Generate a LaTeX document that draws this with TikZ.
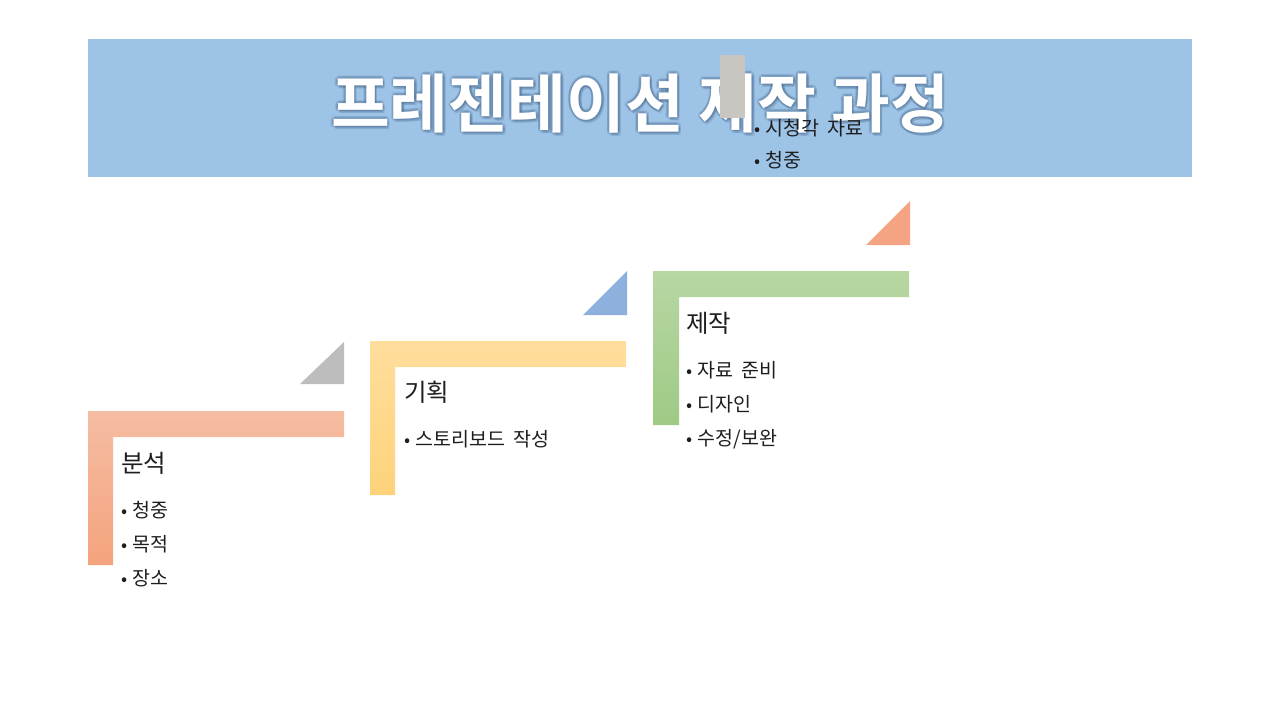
\documentclass[tikz,border=0pt]{standalone}
\usepackage{fontspec}
\newfontfamily\kr[WordSpace=1.9]{Noto Sans CJK KR}
\newfontfamily\krb{Noto Sans CJK KR Bold}
\usetikzlibrary{calc}
\definecolor{banner}{HTML}{9DC3E6}
\definecolor{glowc}{HTML}{3E5F84}
\definecolor{txt}{HTML}{1E1E1E}
\definecolor{orT}{HTML}{F5BDA3}
\definecolor{orB}{HTML}{F4A37D}
\definecolor{yeT}{HTML}{FFDE9C}
\definecolor{yeB}{HTML}{FDD27A}
\definecolor{grT}{HTML}{B7D7A3}
\definecolor{grB}{HTML}{9FCA85}
\definecolor{triGrey}{HTML}{BDBDBD}
\definecolor{triBlue}{HTML}{8EB0DC}
\definecolor{triOr}{HTML}{F4A482}
\definecolor{patch}{HTML}{C9C6C1}
\tikzset{
  heading/.style={anchor=base west, inner sep=0pt, text=txt, font=\kr\fontsize{24.5}{28}\selectfont},
  bulletitem/.style={anchor=base west, inner sep=0pt, text=txt, font=\kr\fontsize{19.5}{22}\selectfont},
  titlestyle/.style={anchor=base, inner sep=0pt, font=\krb\fontsize{64}{70}\selectfont},
}
\newcommand{\titletxt}{프레젠테이션 제작 과정}
\newcommand{\bitem}[1]{{\fontsize{18}{20}\selectfont •}\hspace{5.5pt}#1}
\begin{document}
\begin{tikzpicture}[x=1pt,y=-1pt]
\useasboundingbox (0,0) rectangle (1280,720);
\fill[white] (0,0) rectangle (1280,720);
% banner
\fill[banner] (88,39) rectangle (1192,177);
% title glow
\foreach \dx/\dy [count=\i] in {2.5/0,-2.5/0,0/2.5,0/-2.5,1.8/1.8,-1.8/1.8,1.8/-1.8,-1.8/-1.8,1/3,2.5/3}
  \node[titlestyle, text=glowc, opacity=0.16] (tg\i) at (640+\dx,127+\dy) {\titletxt};
\node[titlestyle, text=white] (title) at (640,127) {\titletxt};
% grey patch
\fill[patch] (720,55) rectangle (745,118);
% spill-over text of a fourth step
\node[bulletitem] (s4a) at (754,135) {\bitem{시청각 자료}};
\node[bulletitem] (s4b) at (754,167) {\bitem{청중}};

% step 1
\shade[top color=orT, bottom color=orB] (88,411) -- (344,411) -- (344,437) -- (113,437) -- (113,565) -- (88,565) -- cycle;
\fill[triGrey] (300,384) -- (344,384) -- (344,342) -- cycle;
\node[heading] (h1) at (121,472) {분석};
\node[bulletitem] (b11) at (121,517) {\bitem{청중}};
\node[bulletitem] (b12) at (121,551) {\bitem{목적}};
\node[bulletitem] (b13) at (121,585) {\bitem{장소}};

% step 2
\shade[top color=yeT, bottom color=yeB] (370,341) -- (626,341) -- (626,367) -- (395,367) -- (395,495) -- (370,495) -- cycle;
\fill[triBlue] (583,315) -- (627,315) -- (627,271) -- cycle;
\node[heading] (h2) at (404,401) {기획};
\node[bulletitem] (b21) at (404,446) {\bitem{스토리보드 작성}};

% step 3
\shade[top color=grT, bottom color=grB] (653,271) -- (909,271) -- (909,297) -- (679,297) -- (679,425) -- (653,425) -- cycle;
\fill[triOr] (866,245) -- (910,245) -- (910,201) -- cycle;
\node[heading] (h3) at (686,332) {제작};
\node[bulletitem] (b31) at (686,377) {\bitem{자료 준비}};
\node[bulletitem] (b32) at (686,411) {\bitem{디자인}};
\node[bulletitem] (b33) at (686,445) {\bitem{수정/보완}};
\end{tikzpicture}
\end{document}
